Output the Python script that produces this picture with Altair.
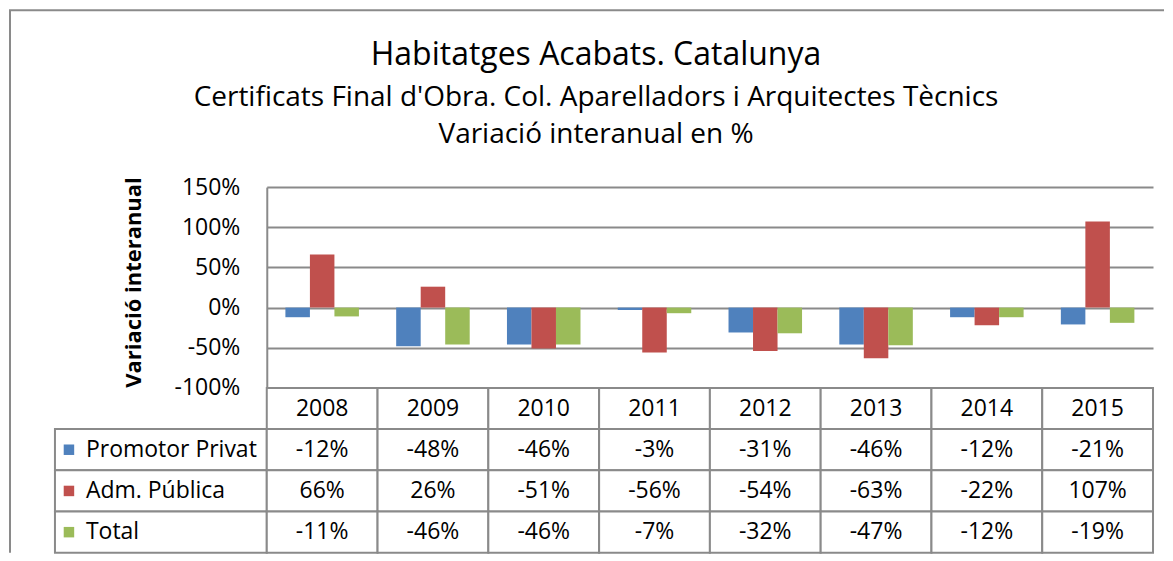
import altair as alt
import pandas as pd

years = ["2008", "2009", "2010", "2011", "2012", "2013", "2014", "2015"]
series = ["Promotor Privat", "Adm. Pública", "Total"]
promotor = [-12, -48, -46, -3, -31, -46, -12, -21]
adm = [66, 26, -51, -56, -54, -63, -22, 107]
total = [-11, -46, -46, -7, -32, -47, -12, -19]
colors = ["#4F81BD", "#C0504D", "#9BBB59"]
yticks = [-1.0, -0.5, 0.0, 0.5, 1.0, 1.5]

FONT = "Open Sans"
GRID = "#8a8a8a"
NOVIEW = alt.ViewBackground(stroke="transparent", strokeOpacity=0, strokeWidth=0)

values = {"Promotor Privat": promotor, "Adm. Pública": adm, "Total": total}
rows = []
for s in series:
    for y, v in zip(years, values[s]):
        rows.append({"year": y, "series": s, "value": v / 100.0, "label": f"{v}%"})
df = pd.DataFrame(rows)

row_order = ["header"] + series
tab = [{"year": y, "row": "header", "label": y} for y in years]
tab += [{"year": r["year"], "row": r["series"], "label": r["label"]} for r in rows]
tab_df = pd.DataFrame(tab)
leg_df = pd.DataFrame({"row": series, "col": ["c"] * 3})

W, H = 887, 201
LW, TH = 212, 165

# spacer cell (holds the outer frame lines)
frame = pd.DataFrame({"k": [0]})
spacer_v = alt.Chart(frame).mark_rule(color=GRID, strokeWidth=2, clip=False).encode(
    x=alt.value(-45), y=alt.value(-177), y2=alt.value(TH + H)
)
spacer_h = alt.Chart(frame).mark_rule(color=GRID, strokeWidth=2, clip=False).encode(
    y=alt.value(-177), x=alt.value(-46), x2=alt.value(1110)
)
spacer = alt.layer(spacer_v, spacer_h).properties(width=LW, height=H, view=NOVIEW)

bars = alt.Chart(df).mark_bar().encode(
    x=alt.X("year:N", sort=years, axis=None,
            scale=alt.Scale(paddingInner=0, paddingOuter=0)),
    xOffset=alt.XOffset("series:N", sort=series,
                        scale=alt.Scale(paddingInner=0, paddingOuter=0.76)),
    y=alt.Y("value:Q",
            scale=alt.Scale(domain=[-1, 1.5], nice=False, zero=False),
            axis=alt.Axis(values=yticks, format=".0%",
                          labelExpr="replace(datum.label, '\u2212', '-')",
                          title="Variació interanual",
                          grid=True, gridColor=GRID, gridWidth=2,
                          domain=True, domainColor=GRID, domainWidth=2,
                          ticks=False, labelPadding=27, labelFontSize=23,
                          labelFont=FONT, labelColor="#000000",
                          titleFont=FONT, titleFontSize=22, titleFontWeight="bold",
                          titleColor="#000000", titlePadding=29, titleY=95)),
    color=alt.Color("series:N", scale=alt.Scale(domain=series, range=colors), legend=None),
).properties(
    width=W, height=H, view=NOVIEW,
    title=alt.TitleParams(
        text="Habitatges Acabats. Catalunya",
        subtitle=["Certificats Final d'Obra. Col. Aparelladors i Arquitectes Tècnics",
                  "Variació interanual en %"],
        font=FONT, fontSize=32, fontWeight="normal", color="#000000",
        subtitleFont=FONT, subtitleFontSize=28, subtitleColor="#000000",
        subtitleLineHeight=37, subtitlePadding=12,
        anchor="middle", frame="group", dx=-114, offset=26,
    ),
)

# year table
tx = alt.X("year:N", sort=years, axis=None, scale=alt.Scale(paddingInner=0, paddingOuter=0))
ty = alt.Y("row:N", sort=row_order, axis=None, scale=alt.Scale(paddingInner=0, paddingOuter=0))
cells = alt.Chart(tab_df).mark_rect(fill="white", stroke=GRID, strokeWidth=2).encode(x=tx, y=ty)
ctext = alt.Chart(tab_df).mark_text(font=FONT, fontSize=23, color="#000000", baseline="middle").encode(
    x=tx, y=ty, text="label:N")
table = alt.layer(cells, ctext).properties(width=W, height=TH, view=NOVIEW)

# legend / label column
ly = alt.Y("row:N", sort=row_order, axis=None, scale=alt.Scale(domain=row_order, paddingInner=0, paddingOuter=0))
lx = alt.X("col:N", axis=None, scale=alt.Scale(paddingInner=0, paddingOuter=0))
lcells = alt.Chart(leg_df).mark_rect(fill="white", stroke=GRID, strokeWidth=2).encode(x=lx, y=ly)
lsq = alt.Chart(leg_df).mark_point(shape="square", filled=True, size=110, opacity=1).encode(
    x=alt.value(14), y=ly,
    color=alt.Color("row:N", scale=alt.Scale(domain=series, range=colors), legend=None))
ltext = alt.Chart(leg_df).mark_text(font=FONT, fontSize=23, color="#000000", align="left",
                                    baseline="middle").encode(x=alt.value(31), y=ly, text="row:N")
labels = alt.layer(lcells, lsq, ltext).properties(width=LW, height=TH, view=NOVIEW)

chart = alt.concat(spacer, bars, labels, table, columns=2, spacing=0,
                   bounds="flush", align="each").properties(
    padding={"left": 0, "top": 1, "right": 0, "bottom": 0}
).configure_view(stroke="transparent", strokeWidth=0).configure(background="white")

chart.save("out.html", embed_options={"renderer": "svg", "actions": False})
